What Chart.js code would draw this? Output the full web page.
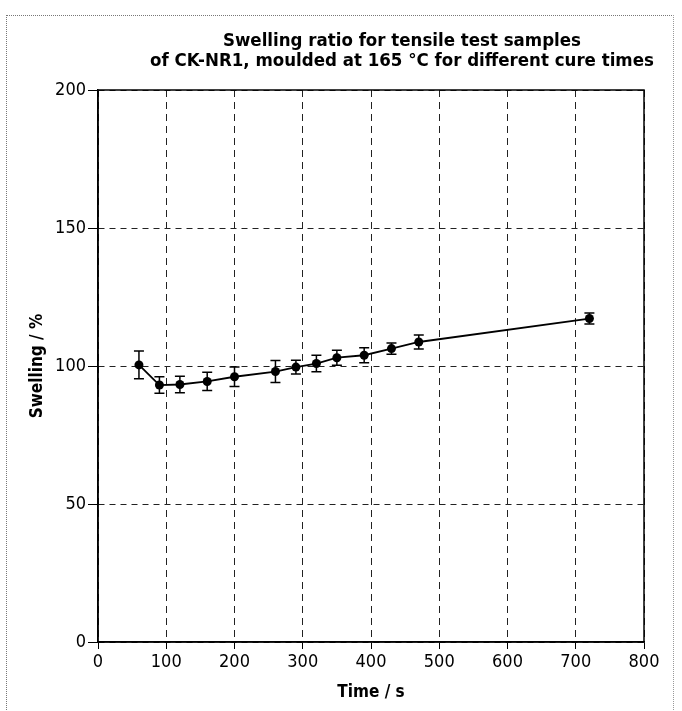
<!DOCTYPE html>
<html>
<head>
<meta charset="utf-8">
<script src="https://cdn.jsdelivr.net/npm/chart.js@4"></script>
<style>
  body{margin:0;background:#fff;}
  #wrap{position:relative;width:682px;height:711px;}
  #frame{position:absolute;left:6px;top:15px;width:666px;height:700px;
         border-top:1px dotted #777;border-left:1px dotted #777;border-right:1px dotted #999;}
  canvas{position:absolute;left:0;top:0;}
</style>
</head>
<body>
<div id="wrap">
  <div id="frame"></div>
  <canvas id="swellChart" width="682" height="711"></canvas>
</div>
<script>
const titleLines=["Swelling ratio for tensile test samples","of CK-NR1, moulded at 165 °C for different cure times"];
const cureTimes=[60,90,120,160,200,260,290,320,350,390,430,470,720];
const swelling=[100.4,93.1,93.3,94.4,96.1,98.0,99.6,100.9,103.0,103.9,106.3,108.7,117.2];
const swellErr=[5,3,3,3.3,3.5,4,2.5,3,2.7,2.7,2,2.5,2];
const xTicks=[0,100,200,300,400,500,600,700,800];
const yTicks=[0,50,100,150,200];

const narrow="'Liberation Sans Narrow','DejaVu Sans Condensed','Liberation Sans',sans-serif";

// frame round the plot plus the two title lines
const framePlugin={
    id:"framePlugin",
    afterDraw(chart){
        const {ctx,chartArea:a}=chart;
        ctx.save();
        ctx.strokeStyle="#000";
        ctx.lineWidth=1.5;
        ctx.strokeRect(a.left,a.top,a.right-a.left,a.bottom-a.top);
        ctx.fillStyle="#000";
        ctx.font="bold 18.5px "+narrow;
        ctx.textAlign="center";
        ctx.textBaseline="middle";
        ctx.fillText(titleLines[0],402,41);
        ctx.fillText(titleLines[1],402,61);
        ctx.restore();
    }
};

// vertical error bars with caps
const errorBars={
    id:"errorBars",
    afterDatasetsDraw(chart){
        const {ctx,scales:{x,y}}=chart;
        ctx.save();
        ctx.strokeStyle="#000";
        ctx.lineWidth=1.5;
        cureTimes.forEach((t,i)=>{
            const px=x.getPixelForValue(t);
            const top=y.getPixelForValue(swelling[i]+swellErr[i]);
            const bot=y.getPixelForValue(swelling[i]-swellErr[i]);
            ctx.beginPath();
            ctx.moveTo(px,top);ctx.lineTo(px,bot);
            ctx.moveTo(px-5,top);ctx.lineTo(px+5,top);
            ctx.moveTo(px-5,bot);ctx.lineTo(px+5,bot);
            ctx.stroke();
        });
        ctx.restore();
    }
};

const ctx=document.getElementById("swellChart").getContext("2d");
new Chart(ctx,{
    type:"scatter",
    data:{
        datasets:[{
            data:cureTimes.map((t,i)=>({x:t,y:swelling[i]})),
            showLine:true,
            borderColor:"#000",
            borderWidth:1.8,
            backgroundColor:"#000",
            pointRadius:4.5,
            pointBorderWidth:0
        }]
    },
    plugins:[errorBars,framePlugin],
    options:{
        responsive:false,
        animation:false,
        devicePixelRatio:1,
        layout:{padding:{left:20,right:38,top:90,bottom:0}},
        plugins:{legend:{display:false},tooltip:{enabled:false}},
        scales:{
            x:{
                type:"linear",min:0,max:800,
                afterBuildTicks(s){s.ticks=xTicks.map(v=>({value:v}));},
                afterFit(s){s.height=69;},
                grid:{color:"#222",lineWidth:1,tickLength:7,tickColor:"#000"},
                border:{display:true,color:"#000",width:1.5,dash:[7,5]},
                ticks:{color:"#000",padding:3,font:{family:narrow,size:18}},
                title:{display:true,text:"Time / s",color:"#000",
                       font:{family:narrow,size:17,weight:"bold"},padding:{top:0,bottom:8}}
            },
            y:{
                min:0,max:200,
                afterBuildTicks(s){s.ticks=yTicks.map(v=>({value:v}));},
                afterFit(s){s.width=78;},
                grid:{color:"#222",lineWidth:1,tickLength:10,tickColor:"#000"},
                border:{display:true,color:"#000",width:1.5,dash:[6,5]},
                ticks:{color:"#000",padding:2,font:{family:narrow,size:18}},
                title:{display:true,text:"Swelling / %",color:"#000",
                       font:{family:narrow,size:17,weight:"bold"},padding:{top:7,bottom:0}}
            }
        }
    }
});
</script>
</body>
</html>
